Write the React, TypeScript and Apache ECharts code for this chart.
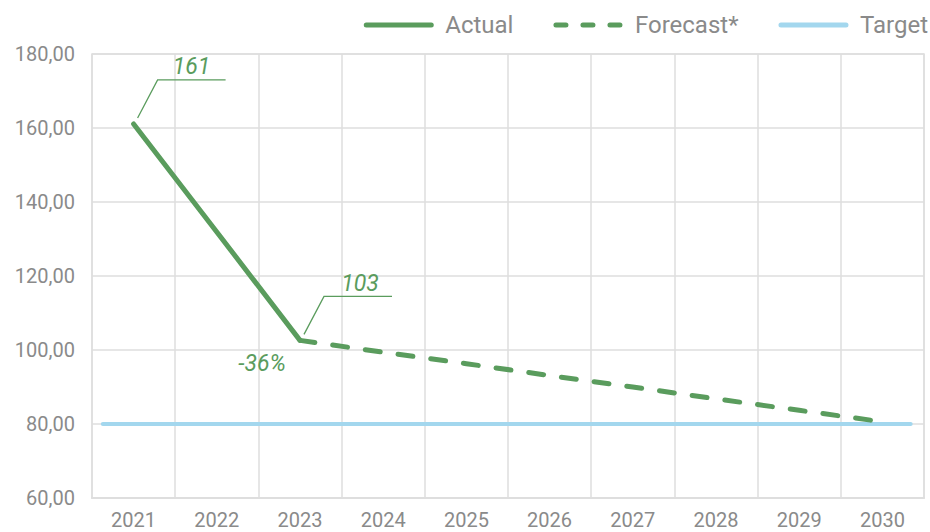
import React, { useEffect, useRef } from "react";
import * as echarts from "echarts";

const YEARS = ["2021", "2022", "2023", "2024", "2025", "2026", "2027", "2028", "2029", "2030"];
const ACTUAL: (number | null)[] = [161.1, 131.9, 102.6, null, null, null, null, null, null, null];
const FORECAST: (number | null)[] = [null, null, 102.6, 99.4, 96.3, 93.1, 90.0, 86.8, 83.7, 80.6];
const TARGET_VALUE = 80;
const TARGET_SPAN = [-0.37, 9.34]; // in category index units
const Y_MIN = 60;
const Y_MAX = 180;
const Y_STEP = 20;
const LABEL_161 = "161";
const LABEL_103 = "103";
const LABEL_CHANGE = "-36%";

const GREEN = "#5a9c5d";
const BLUE = "#a3d7ee";
const GRAY = "#8a8a8a";
const GRID = "#dedede";
const FONT = "Roboto";

export default function App() {
  const ref = useRef<HTMLDivElement>(null);
  useEffect(() => {
    if (!ref.current) return;
    const chart = echarts.init(ref.current, null, { renderer: "svg" });
    const option: any = {
      animation: false,
      textStyle: { fontFamily: FONT },
      grid: {
        left: 92,
        right: 6,
        top: 54,
        bottom: 34,
        show: true,
        borderColor: GRID,
        borderWidth: 1.5,
      },
      legend: {
        right: -3,
        top: 8,
        itemWidth: 65,
        itemHeight: 12,
        itemGap: 40,
        itemStyle: { opacity: 0 },
        lineStyle: { width: 5, cap: "round" },
        textStyle: { fontSize: 24, color: GRAY, fontFamily: FONT, padding: [0, 0, 0, 9] },
        data: [
          { name: "Actual" },
          { name: "Forecast*", lineStyle: { width: 5, type: [10, 17], cap: "round" } },
          { name: "Target" },
        ],
      },
      xAxis: [
        {
          type: "category",
          data: YEARS,
          boundaryGap: true,
          axisLine: { show: true, lineStyle: { color: GRID, width: 2 } },
          axisTick: { show: false },
          splitLine: { show: true, lineStyle: { color: GRID, width: 1.5 } },
          axisLabel: { color: GRAY, fontSize: 20, margin: 12, fontFamily: FONT, interval: 0 },
        },
        {
          type: "value",
          min: -0.5,
          max: YEARS.length - 0.5,
          show: false,
        },
      ],
      yAxis: {
        type: "value",
        min: Y_MIN,
        max: Y_MAX,
        interval: Y_STEP,
        axisLine: { show: false },
        axisTick: { show: false },
        splitLine: { show: true, lineStyle: { color: GRID, width: 1.5 } },
        axisLabel: {
          color: GRAY,
          fontSize: 20,
          margin: 17,
          fontFamily: FONT,
          formatter: (v: number) => v.toFixed(2).replace(".", ","),
        },
      },
      series: [
        {
          name: "Target",
          type: "line",
          xAxisIndex: 1,
          data: TARGET_SPAN.map((x) => [x, TARGET_VALUE]),
          symbol: "none",
          lineStyle: { color: BLUE, width: 4, cap: "round" },
          itemStyle: { color: BLUE },
          z: 2,
        },
        {
          name: "Actual",
          type: "line",
          data: ACTUAL,
          symbol: "none",
          lineStyle: { color: GREEN, width: 5, cap: "round", join: "round" },
          itemStyle: { color: GREEN },
          z: 3,
        },
        {
          name: "Forecast*",
          type: "line",
          data: FORECAST,
          symbol: "none",
          lineStyle: { color: GREEN, width: 5, type: [15, 18], cap: "round" },
          itemStyle: { color: GREEN },
          z: 3,
        },
      ],
    };
    chart.setOption(option);

    const p1 = chart.convertToPixel({ xAxisIndex: 0, yAxisIndex: 0 }, [0, ACTUAL[0] as number]) as number[];
    const p3 = chart.convertToPixel({ xAxisIndex: 0, yAxisIndex: 0 }, [2, ACTUAL[2] as number]) as number[];
    const leader = (p: number[]) => ({
      type: "polyline",
      shape: {
        points: [
          [p[0] + 4, p[1] - 6],
          [p[0] + 24, p[1] - 44],
          [p[0] + 92, p[1] - 44],
        ],
      },
      style: { stroke: GREEN, lineWidth: 1.3, fill: null },
      silent: true,
      z: 10,
    });
    const label = (p: number[], text: string, dx: number, dy: number) => ({
      type: "text",
      x: p[0] + dx,
      y: p[1] + dy,
      style: {
        text,
        fill: GREEN,
        font: `italic 23px ${FONT}`,
        align: "center",
        verticalAlign: "middle",
      },
      silent: true,
      z: 10,
    });
    chart.setOption({
      graphic: [
        leader(p1),
        leader(p3),
        label(p1, LABEL_161, 58, -57),
        label(p3, LABEL_103, 60, -57),
        label(p3, LABEL_CHANGE, -38, 23),
      ],
    });
    return () => chart.dispose();
  }, []);
  return <div ref={ref} style={{ width: 930, height: 532, position: "absolute", left: 0, top: 0 }} />;
}
